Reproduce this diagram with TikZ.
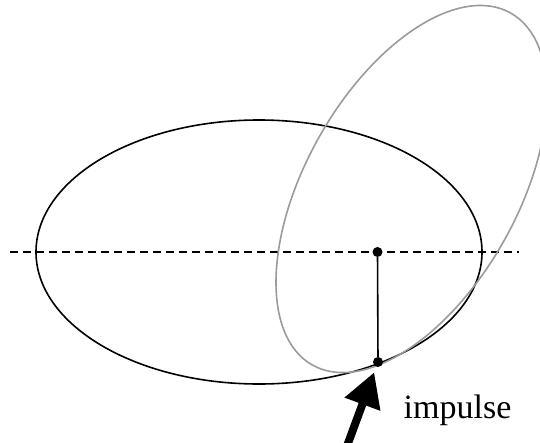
\documentclass[tikz,border=0pt]{standalone}
\usepackage{fontspec}
\setmainfont{Liberation Serif}
\usepackage{tikz}
\usetikzlibrary{arrows.meta, positioning}
\definecolor{mydark}{RGB}{0,0,0}
\definecolor{mygray}{RGB}{155,155,155}
\tikzset{
  orbit/.style={draw=mydark, line width=1.6pt},
  tiltorbit/.style={draw=mygray, line width=1.6pt},
  axisline/.style={draw=mydark, line width=1.6pt, dash pattern=on 8pt off 5pt},
  dot/.style={circle, fill=mydark, inner sep=0pt, minimum size=10pt},
  bigarrow/.style={-{Triangle[length=34pt, width=36pt]}, line width=8pt, color=mydark, shorten >=11pt},
  line/.style={line width=1.6pt, color=mydark},
  lbl/.style={font=\fontsize{34}{40}\selectfont, inner sep=0pt}
}

\begin{document}
\begin{tikzpicture}[x=1pt, y=-1pt]
  \useasboundingbox (0,0) rectangle (540,442);
  \coordinate (ctr) at (259,252);
  \coordinate (gctr) at (411.5,189);
  \coordinate (axl) at (10,252);
  \coordinate (axr) at (519,252);
  \coordinate (push) at (347,446);
  \draw[axisline] (axl) -- (axr);
  \draw[orbit] (ctr) ellipse [x radius=223pt, y radius=132pt];
  \draw[tiltorbit, rotate around={60.6:(gctr)}] (gctr) ellipse [x radius=202pt, y radius=106pt];
  \node[dot] (top) at (377.5,252) {};
  \node[dot] (bot) at (378,362) {};
  \draw[line] (top) -- (bot);
  \draw[bigarrow] (push) -- (bot.center);
  \node[lbl, anchor=base] (imp) at (457.5,418) {impulse};
\end{tikzpicture}
\end{document}
